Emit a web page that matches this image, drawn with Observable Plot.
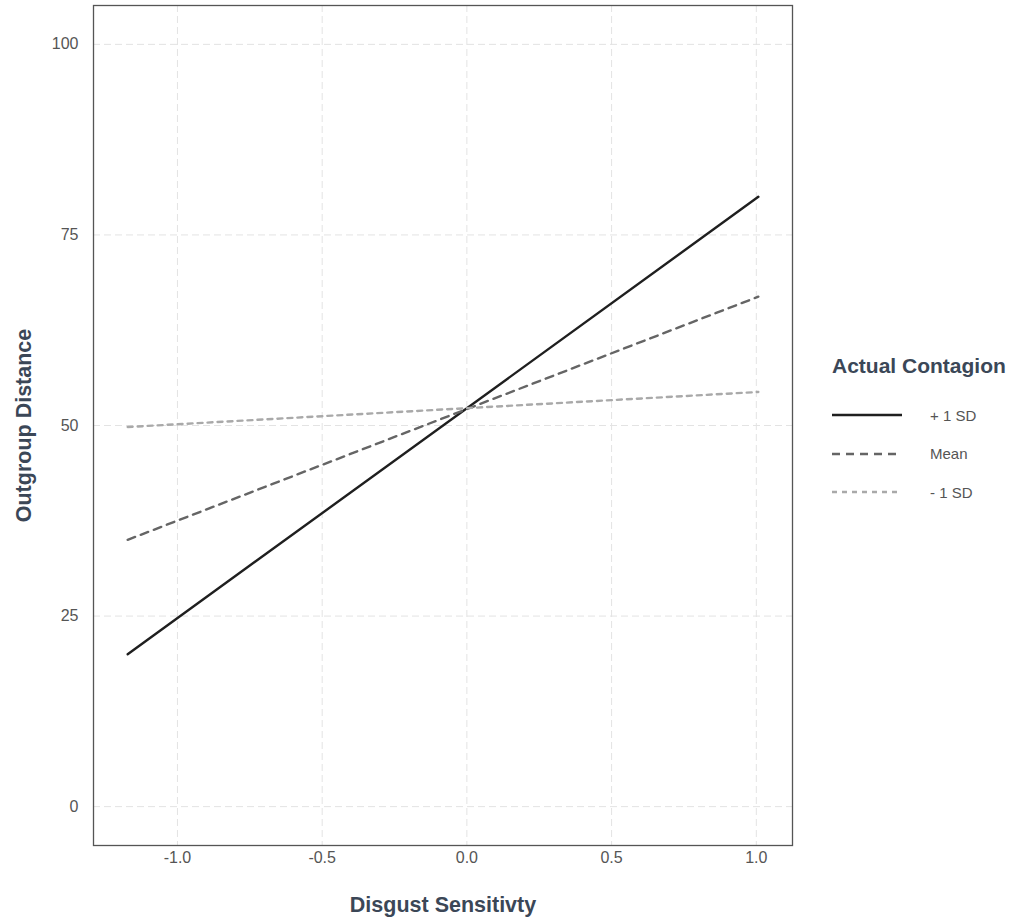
<!DOCTYPE html>
<html>
<head>
<meta charset="utf-8">
<script src="https://cdn.jsdelivr.net/npm/d3@7"></script>
<script src="https://cdn.jsdelivr.net/npm/@observablehq/plot@0.6"></script>
<style>
  body { margin: 0; background: #fff; font-family: "Liberation Sans", Arial, sans-serif; }
  #wrap { position: relative; width: 1017px; height: 919px; }
  g[aria-label="x-axis label"] text, g[aria-label="y-axis label"] text {
    font-size: 21.5px; font-weight: bold; fill: #3b4757;
  }
  g[aria-label="x-axis tick label"] text, g[aria-label="y-axis tick label"] text {
    fill: #555; font-size: 16px;
  }
  #legend { position: absolute; left: 832px; top: 354px; color: #3b4757; }
  #legend .title { font-size: 21px; font-weight: bold; height: 42px; }
  #legend .row { display: flex; align-items: center; height: 38.5px; }
  #legend .row span { font-size: 15px; color: #555; margin-left: 28px; }
</style>
</head>
<body>
<div id="wrap"></div>
<script>
// Data
const series = ["+ 1 SD", "Mean", "- 1 SD"];
const xStart = -1.172;
const xEnd = 1.007;
const yStart = [20.0, 35.0, 49.8];
const yEnd = [80.0, 66.9, 54.4];
const xTicks = [-1.0, -0.5, 0.0, 0.5, 1.0];
const yTicks = [0, 25, 50, 75, 100];
const colors = ["#1f1f1f", "#656565", "#a9a9a9"];
const dashes = ["none", "8,6", "5,5"];
const widths = [2.4, 2.4, 2.4];

const rows = [];
series.forEach((s, i) => {
  rows.push({series: s, x: xStart, y: yStart[i]});
  rows.push({series: s, x: xEnd, y: yEnd[i]});
});

const plot = Plot.plot({
  width: 1017,
  height: 919,
  marginLeft: 93,
  marginRight: 225,
  marginTop: 5,
  marginBottom: 74,
  style: {fontFamily: "'Liberation Sans', Arial, sans-serif", background: "#fff"},
  x: {domain: [-1.29, 1.125]},
  y: {domain: [-5.1, 105.1]},
  marks: [
    Plot.gridX(xTicks, {stroke: "#e3e3e3", strokeOpacity: 1, strokeWidth: 1, strokeDasharray: "7,4"}),
    Plot.gridY(yTicks, {stroke: "#e3e3e3", strokeOpacity: 1, strokeWidth: 1, strokeDasharray: "7,4"}),
    ...series.map((s, i) => Plot.line(rows.filter(r => r.series === s), {
      x: "x", y: "y", stroke: colors[i], strokeWidth: widths[i], strokeDasharray: dashes[i]
    })),
    Plot.frame({stroke: "#555", strokeWidth: 1.3}),
    Plot.axisX(xTicks, {tickSize: 0, tickPadding: 6, tickFormat: d => d.toFixed(1),
      label: "Disgust Sensitivty", labelAnchor: "center", labelArrow: "none", labelOffset: 66}),
    Plot.axisY(yTicks, {tickSize: 0, tickPadding: 15, tickFormat: d => String(d),
      label: "Outgroup Distance", labelAnchor: "center", labelArrow: "none", labelOffset: 78})
  ]
});
document.getElementById("wrap").appendChild(plot);

// Legend
const legend = document.createElement("div");
legend.id = "legend";
legend.innerHTML = `<div class="title">Actual Contagion</div>` + series.map((s, i) =>
  `<div class="row"><svg width="70" height="6"><line x1="0" y1="3" x2="70" y2="3" stroke="${colors[i]}" stroke-width="${widths[i]}" stroke-dasharray="${dashes[i]}"/></svg><span>${s}</span></div>`
).join("");
document.getElementById("wrap").appendChild(legend);
</script>
</body>
</html>
